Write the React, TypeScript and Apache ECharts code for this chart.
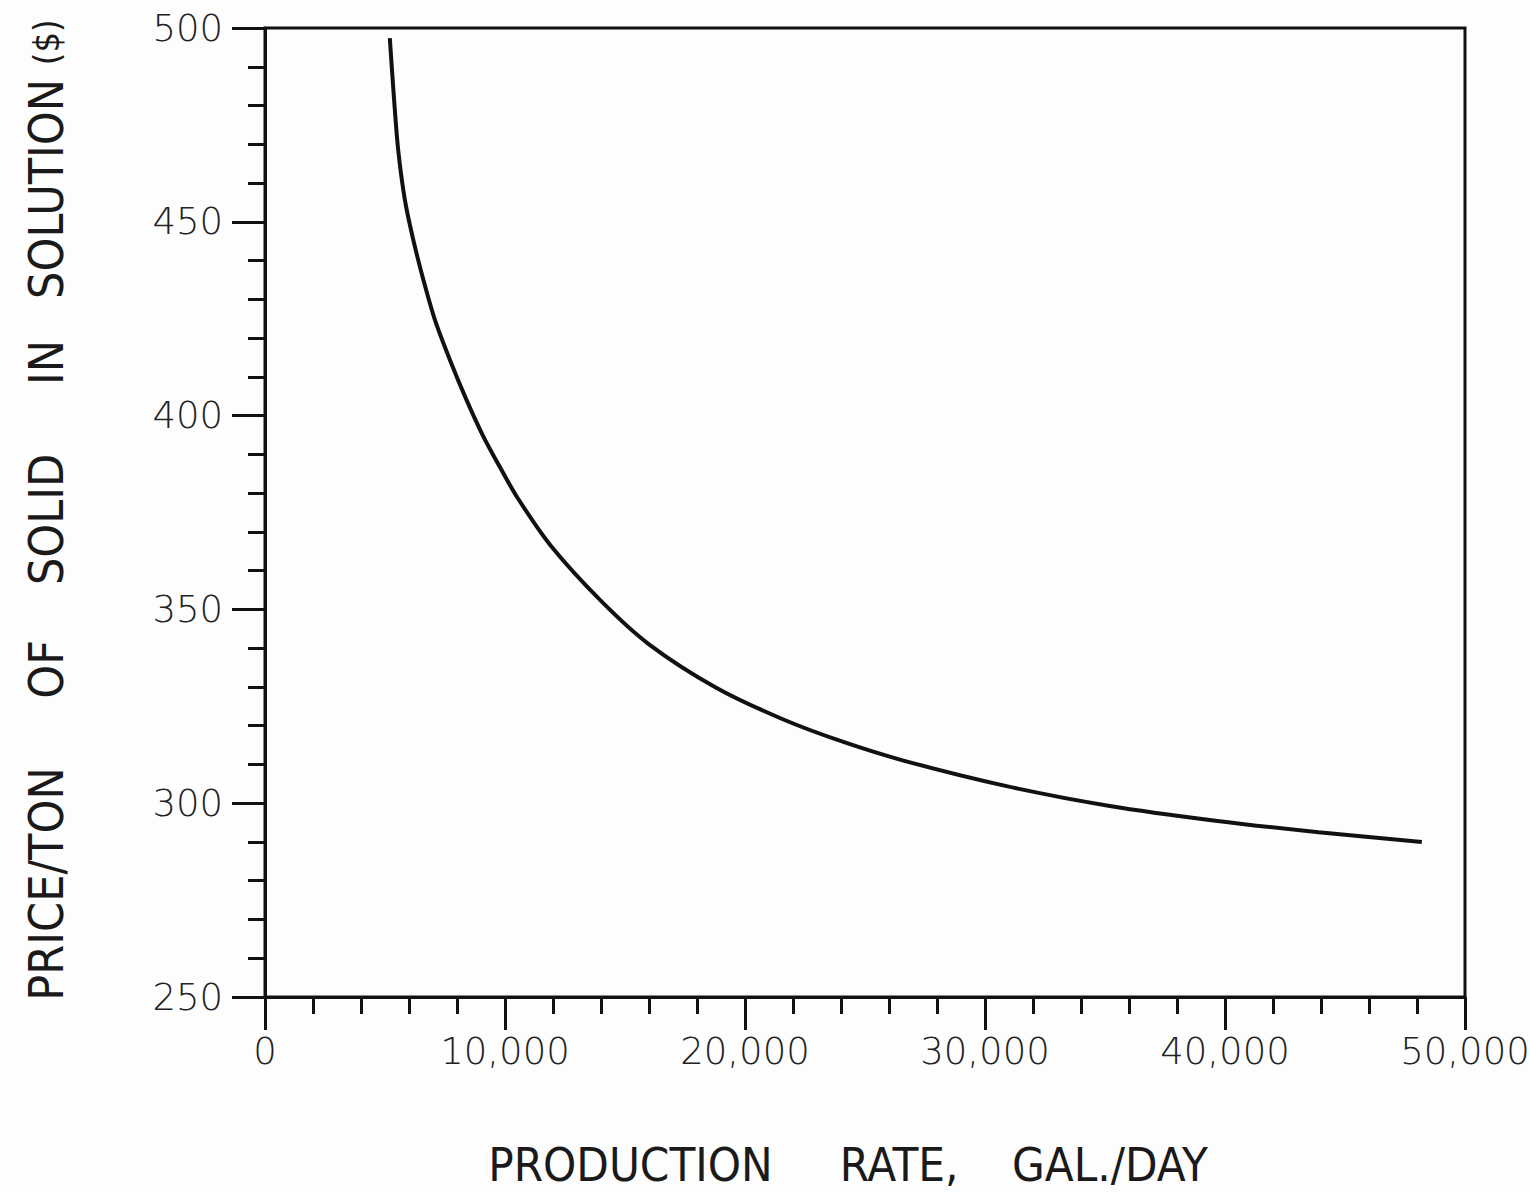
import React, { useEffect, useRef } from "react";
import * as echarts from "echarts";

const rateGalPerDay = [5200, 5380, 5550, 5830, 6180, 6600, 7080, 7710, 8400, 9100, 9800, 10500, 11900, 14000, 16000, 18800, 21600, 24100, 26600, 30900, 35200, 39600, 43900, 48200];
const pricePerTon = [497.4, 481.4, 468.5, 455.6, 445.3, 435.0, 424.7, 414.3, 404.0, 394.6, 386.6, 379.0, 366.5, 352.2, 341.0, 329.8, 321.6, 315.8, 311.0, 304.4, 299.3, 295.5, 292.5, 290.0];

const xTitle = "PRODUCTION     RATE,    GAL./DAY";
const yTitleMain = "PRICE/TON     OF    SOLID     IN   SOLUTION ";
const yTitleUnit = "($)";

const labelFont = "'DejaVu Sans', 'Liberation Sans', sans-serif";
const titleFont = "'DejaVu Sans Condensed', 'Liberation Sans Narrow', 'DejaVu Sans', sans-serif";

export default function App() {
  const ref = useRef<HTMLDivElement>(null);
  useEffect(() => {
    if (!ref.current) return;
    const chart = echarts.init(ref.current, undefined, { renderer: "svg" });
    const data = rateGalPerDay.map((x, i) => [x, pricePerTon[i]]);
    const axisLine = { lineStyle: { color: "#111", width: 3 } };
    chart.setOption({
      animation: false,
      backgroundColor: "#fdfdfd",
      grid: {
        left: 265,
        right: 65,
        top: 28,
        bottom: 195,
        show: true,
        borderColor: "#111",
        borderWidth: 3,
        containLabel: false,
        outerBoundsMode: "none",
      },
      xAxis: {
        type: "value",
        min: 0,
        max: 50000,
        interval: 10000,
        axisLine,
        axisTick: { show: true, length: 33, lineStyle: { color: "#111", width: 3 } },
        minorTick: { show: true, splitNumber: 5, length: 17, lineStyle: { color: "#111", width: 3 } },
        splitLine: { show: false },
        axisLabel: {
          margin: 36,
          fontSize: 37,
          fontWeight: 200,
          color: "#222",
          fontFamily: labelFont,
          formatter: (v: number) => v.toLocaleString("en-US"),
        },
      },
      yAxis: {
        type: "value",
        min: 250,
        max: 500,
        interval: 50,
        axisLine,
        axisTick: { show: true, length: 33, lineStyle: { color: "#111", width: 3 } },
        minorTick: { show: true, splitNumber: 5, length: 17, lineStyle: { color: "#111", width: 3 } },
        splitLine: { show: false },
        axisLabel: {
          margin: 42,
          fontSize: 37,
          fontWeight: 200,
          color: "#222",
          fontFamily: labelFont,
        },
      },
      graphic: [
        {
          type: "text",
          x: 848,
          y: 1164,
          style: {
            text: xTitle,
            fontSize: 47,
            fontFamily: titleFont,
            fill: "#1a1a1a",
            textAlign: "center",
            textVerticalAlign: "middle",
          },
        },
        {
          type: "text",
          x: 46,
          y: 510,
          rotation: Math.PI / 2,
          style: {
            text: yTitleMain + "{s|" + yTitleUnit + "}",
            fontSize: 48,
            fontFamily: titleFont,
            fill: "#1a1a1a",
            textAlign: "center",
            textVerticalAlign: "middle",
            rich: {
              s: {
                fontSize: 36,
                fontFamily: titleFont,
                fill: "#1a1a1a",
                verticalAlign: "middle",
              },
            },
          },
        },
      ],
      series: [
        {
          type: "line",
          data,
          smooth: 0.3,
          showSymbol: false,
          symbol: "none",
          lineStyle: { color: "#111", width: 4 },
        },
      ],
    });
    return () => chart.dispose();
  }, []);
  return (
    <div
      ref={ref}
      style={{ position: "fixed", left: 0, top: 0, width: 1530, height: 1192 }}
    />
  );
}
